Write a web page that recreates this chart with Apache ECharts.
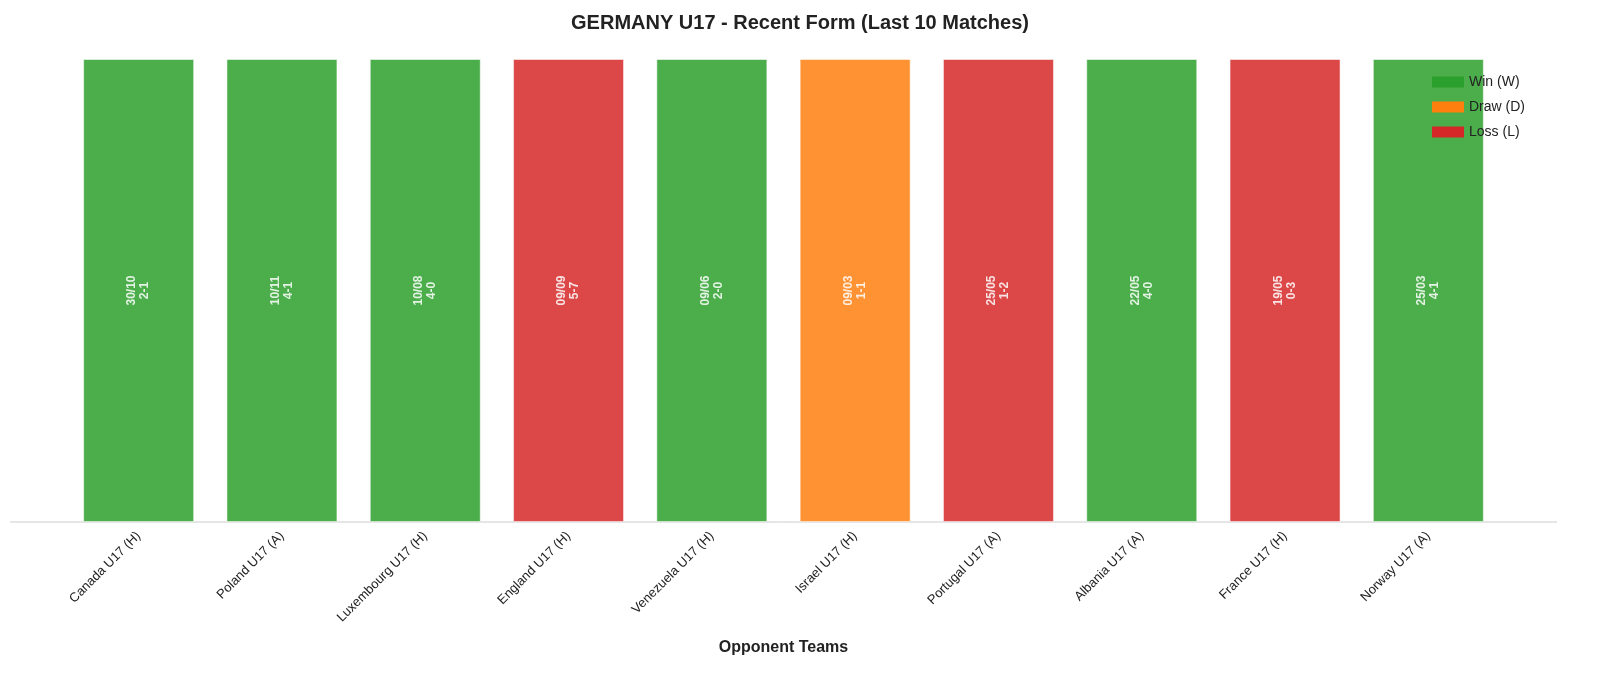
<!DOCTYPE html>
<html><head><meta charset="utf-8">
<script src="https://cdn.jsdelivr.net/npm/echarts@6/dist/echarts.min.js"></script>
<style>html,body{margin:0;padding:0;background:#fff;overflow:hidden;width:100%;height:100%}#c{width:100vw;height:100vh}</style>
</head><body><div id="c"></div>
<script>
const opponents = ["Canada U17 (H)","Poland U17 (A)","Luxembourg U17 (H)","England U17 (H)","Venezuela U17 (H)","Israel U17 (H)","Portugal U17 (A)","Albania U17 (A)","France U17 (H)","Norway U17 (A)"];
const dates = ["30/10","10/11","10/08","09/09","09/06","09/03","25/05","22/05","19/05","25/03"];
const scores = ["2-1","4-1","4-0","5-7","2-0","1-1","1-2","4-0","0-3","4-1"];
const results = ["W","W","W","L","W","D","L","W","L","W"];
const kinds = [["W","Win (W)","#2ca02c"],["D","Draw (D)","#ff7f0e"],["L","Loss (L)","#d62728"]];
const F = 'Liberation Sans, Arial, sans-serif';
const el = document.getElementById('c');
const chart = echarts.init(el);
const W = el.clientWidth, H = el.clientHeight, sx = W/1600, sy = H/679;
const series = kinds.map(([k,name,color]) => ({
  name, type:'bar', barWidth:111*sx, barGap:'-100%',
  itemStyle:{color, opacity:0.85, borderColor:'rgba(255,255,255,0.6)', borderWidth:1},
  label:{show:true, position:'inside', rotate:90, color:'#fff', fontWeight:'bold', fontSize:12, lineHeight:13, fontFamily:F,
    formatter:p=>dates[p.dataIndex]+'\n'+scores[p.dataIndex]},
  data: results.map(r => r===k ? 1 : null)
}));
chart.setOption({
  animation:false,
  title:{text:'GERMANY U17 - Recent Form (Last 10 Matches)', left:'center', top:8*sy,
    textStyle:{fontSize:20, fontWeight:'bold', color:'#222', fontFamily:F}},
  legend:{right:70*sx, top:70*sy, orient:'vertical', icon:'rect', itemWidth:32, itemHeight:11, itemGap:11,
    textStyle:{fontSize:14, color:'#222', fontFamily:F},
    data:kinds.map(k=>({name:k[1], itemStyle:{opacity:1, borderWidth:0}}))},
  grid:{left:67*sx, width:1433*sx, top:59*sy, bottom:157*sy},
  xAxis:{type:'category', data:opponents, name:'Opponent Teams', nameLocation:'middle', nameGap:118*sy,
    nameTextStyle:{fontSize:16, fontWeight:'bold', color:'#222', fontFamily:F},
    axisLine:{show:false}, axisTick:{show:false},
    axisLabel:{rotate:45, color:'#222', fontSize:13, fontFamily:F, interval:0, margin:12}},
  yAxis:{type:'value', min:0, max:1, show:false},
  graphic:[{type:'line', shape:{x1:10*sx,y1:522*sy,x2:1557*sx,y2:522*sy}, style:{stroke:'#cccccc', lineWidth:1}}],
  series
});
</script></body></html>
